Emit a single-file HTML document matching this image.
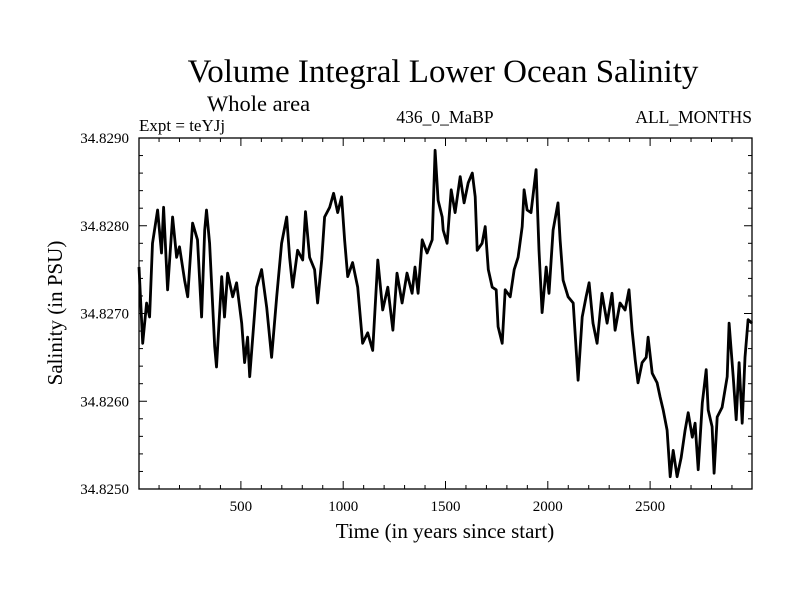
<!DOCTYPE html>
<html><head><meta charset="utf-8"><style>
html,body{margin:0;padding:0;background:#fff;}
svg text{font-family:"Liberation Serif",serif;fill:#000;}
</style></head><body>
<svg id="chart" width="800" height="600" viewBox="0 0 800 600" xmlns="http://www.w3.org/2000/svg">
<rect width="800" height="600" fill="#fff"/>
<text x="443" y="82" font-size="33" text-anchor="middle">Volume Integral Lower Ocean Salinity</text>
<text x="207" y="111" font-size="22.5">Whole area</text>
<text x="139" y="131" font-size="17">Expt = teYJj</text>
<text x="445" y="123" font-size="17.5" text-anchor="middle">436_0_MaBP</text>
<text x="752" y="123" font-size="17.5" text-anchor="end">ALL_MONTHS</text>
<text transform="translate(62,313) rotate(-90)" font-size="21" text-anchor="middle">Salinity (in PSU)</text>
<text x="445" y="538" font-size="21" text-anchor="middle">Time (in years since start)</text>
<g id="axes"></g>
<g id="series"></g>
<rect x="139" y="138" width="613" height="351" fill="none" stroke="#000" stroke-width="1.3"/>
</svg>
<script>
const years = [2,20,39,54,68,93,112,122,142,166,186,200,225,240,264,288,308,323,332,347,372,381,406,420,435,460,479,504,518,533,543,577,601,626,650,675,699,724,738,753,777,802,816,836,860,875,895,909,934,953,973,992,1007,1022,1046,1071,1095,1120,1144,1169,1193,1218,1243,1263,1288,1312,1337,1351,1366,1386,1410,1435,1449,1464,1484,1489,1508,1528,1547,1572,1591,1611,1631,1645,1655,1679,1694,1709,1728,1748,1757,1777,1792,1816,1836,1855,1875,1884,1899,1918,1943,1957,1972,1992,2006,2026,2050,2060,2075,2099,2124,2148,2168,2187,2202,2221,2241,2265,2290,2314,2329,2353,2378,2397,2412,2427,2441,2461,2481,2490,2510,2534,2549,2564,2583,2598,2613,2632,2652,2671,2686,2706,2720,2735,2755,2774,2784,2803,2813,2828,2852,2877,2886,2906,2921,2935,2950,2964,2979,2998];
const salinity = [34.82753,34.82666,34.82712,34.82696,34.82780,34.82818,34.82769,34.82821,34.82727,34.82810,34.82764,34.82776,34.82738,34.82719,34.82803,34.82784,34.82696,34.82795,34.82818,34.82780,34.82662,34.82639,34.82742,34.82696,34.82746,34.82719,34.82735,34.82689,34.82644,34.82673,34.82628,34.82730,34.82750,34.82707,34.82650,34.82719,34.82780,34.82810,34.82764,34.82730,34.82772,34.82761,34.82816,34.82764,34.82750,34.82712,34.82761,34.82810,34.82821,34.82837,34.82815,34.82833,34.82784,34.82742,34.82758,34.82730,34.82666,34.82678,34.82658,34.82761,34.82704,34.82730,34.82681,34.82746,34.82712,34.82746,34.82723,34.82753,34.82723,34.82784,34.82769,34.82784,34.82886,34.82829,34.82810,34.82795,34.82780,34.82841,34.82815,34.82856,34.82826,34.82849,34.82860,34.82833,34.82772,34.82780,34.82799,34.82750,34.82730,34.82727,34.82685,34.82666,34.82727,34.82719,34.82750,34.82764,34.82799,34.82841,34.82818,34.82815,34.82864,34.82772,34.82701,34.82753,34.82723,34.82795,34.82826,34.82784,34.82738,34.82719,34.82712,34.82624,34.82696,34.82719,34.82735,34.82689,34.82666,34.82723,34.82689,34.82723,34.82681,34.82712,34.82704,34.82727,34.82681,34.82647,34.82621,34.82644,34.82650,34.82673,34.82632,34.82621,34.82605,34.82590,34.82567,34.82514,34.82544,34.82514,34.82536,34.82567,34.82587,34.82559,34.82575,34.82522,34.82598,34.82636,34.82590,34.82571,34.82518,34.82582,34.82593,34.82628,34.82689,34.82628,34.82579,34.82644,34.82575,34.82650,34.82693,34.82689];
const xTickValues = [500,1000,1500,2000,2500];
const xTickLabels = ["500","1000","1500","2000","2500"];
const yTickValues = [34.825,34.826,34.827,34.828,34.829];
const yTickLabels = ["34.8250","34.8260","34.8270","34.8280","34.8290"];

const L=139,R=752,T=138,B=489;
const X0=2,X1=2998,Y0=34.825,Y1=34.829;
const sx=v=>L+(v-X0)/(X1-X0)*(R-L);
const sy=v=>B-(v-Y0)/(Y1-Y0)*(B-T);
const NS="http://www.w3.org/2000/svg";
const axes=document.getElementById('axes');
function line(x1,y1,x2,y2,name){
  const l=document.createElementNS(NS,'line');
  l.setAttribute('x1',x1);l.setAttribute('y1',y1);l.setAttribute('x2',x2);l.setAttribute('y2',y2);
  l.setAttribute('stroke','#000');l.setAttribute('stroke-width','1');
  
  
  axes.appendChild(l);
}
for(let v=100;v<X1;v+=100){
  const major=v%500===0, len=major?8:4, x=sx(v);
  line(x,B,x,B-len,'x-tick');
  line(x,T,x,T+len,'x-tick-top');
}
for(let v=34.825;v<=34.82901;v+=0.0002){
  const major=Math.abs(Math.round(v*1000)-v*1000)<1e-6, len=major?8:4, y=sy(v);
  line(L,y,L+len,y,'y-tick');
  line(R,y,R-len,y,'y-tick-right');
}
xTickValues.forEach((v,i)=>{
  const t=document.createElementNS(NS,'text');
  t.setAttribute('x',sx(v));t.setAttribute('y',B+22);
  t.setAttribute('font-size','15');t.setAttribute('text-anchor','middle');
  t.textContent=xTickLabels[i];
  
  
  axes.appendChild(t);
});
yTickValues.forEach((v,i)=>{
  const t=document.createElementNS(NS,'text');
  t.setAttribute('x',129);t.setAttribute('y',sy(v)+5);
  t.setAttribute('font-size','15');t.setAttribute('text-anchor','end');
  t.textContent=yTickLabels[i];
  
  
  axes.appendChild(t);
});
const p=document.createElementNS(NS,'path');
p.setAttribute('d',years.map((yr,i)=>(i?'L':'M')+sx(yr).toFixed(1)+' '+sy(salinity[i]).toFixed(1)).join(' '));
p.setAttribute('fill','none');p.setAttribute('stroke','#000');p.setAttribute('stroke-width','2.8');p.setAttribute('stroke-linejoin','round');


document.getElementById('series').appendChild(p);
</script>
</body></html>
